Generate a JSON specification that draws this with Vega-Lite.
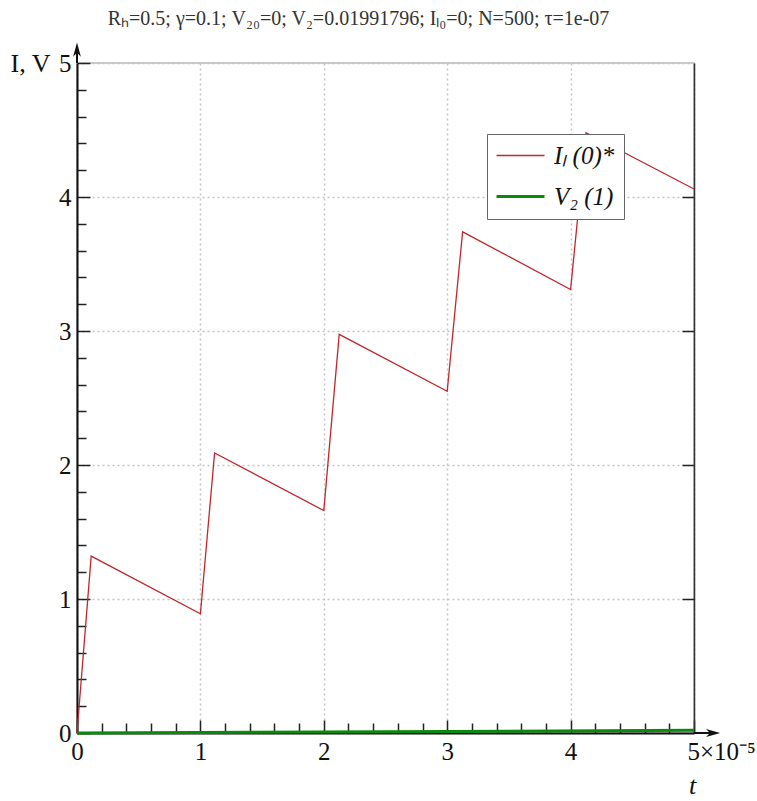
{
  "$schema": "https://vega.github.io/schema/vega-lite/v6.json",
  "width": 617,
  "height": 670,
  "autosize": {"type": "none"},
  "padding": {"left": 77, "top": 63, "right": 63, "bottom": 68},
  "background": "white",
  "title": {
    "text": "Rₕ=0.5; γ=0.1; V₂₀=0; V₂=0.01991796; Iₗ₀=0; N=500; τ=1e-07",
    "font": "Liberation Serif",
    "fontSize": 20,
    "fontWeight": "normal",
    "color": "#333333",
    "anchor": "middle",
    "dx": -27,
    "offset": 14
  },
  "config": {
    "view": {"stroke": "#bbbbbb", "strokeWidth": 1.5},
    "axis": {
      "labelFont": "Liberation Serif",
      "labelFontSize": 25,
      "labelColor": "#111111",
      "titleFont": "Liberation Serif",
      "titleFontSize": 26,
      "titleFontWeight": "normal",
      "titleColor": "#111111",
      "domainColor": "#111111",
      "domainWidth": 2,
      "tickColor": "#222222",
      "tickWidth": 1.5,
      "gridColor": "#c4c4c4",
      "gridDash": [2, 3],
      "gridWidth": 1.5
    },
    "legend": {
      "orient": "none",
      "legendX": 410,
      "legendY": 71,
      "fillColor": "white",
      "strokeColor": "#666666",
      "padding": 9,
      "symbolType": "stroke",
      "symbolSize": 2304,
      "symbolOffset": 12,
      "labelFont": "Liberation Serif",
      "labelFontSize": 25,
      "labelFontStyle": "italic",
      "labelColor": "#111111",
      "labelOffset": 21,
      "rowPadding": 15
    }
  },
  "datasets": {
    "curves": [
      {"t": 0, "v": 0, "series": "IL"},
      {"t": 0.115, "v": 1.32, "series": "IL"},
      {"t": 1.0, "v": 0.89, "series": "IL"},
      {"t": 1.115, "v": 2.09, "series": "IL"},
      {"t": 2.0, "v": 1.66, "series": "IL"},
      {"t": 2.125, "v": 2.975, "series": "IL"},
      {"t": 3.0, "v": 2.55, "series": "IL"},
      {"t": 3.125, "v": 3.74, "series": "IL"},
      {"t": 4.0, "v": 3.31, "series": "IL"},
      {"t": 4.125, "v": 4.48, "series": "IL"},
      {"t": 5.0, "v": 4.06, "series": "IL"},
      {"t": 0, "v": 0, "series": "V2"},
      {"t": 5.0, "v": 0.01991796, "series": "V2"}
    ],
    "axisLines": [
      {"t": 0, "v": 5, "t2": 0, "v2": 5.1},
      {"t": 5, "v": 0, "t2": 5.15, "v2": 0}
    ],
    "arrowHeads": [
      {"t": 0, "v": 5.1, "dir": "up"},
      {"t": 5.155, "v": 0, "dir": "right"}
    ]
  },
  "layer": [
    {
      "data": {"name": "curves"},
      "mark": {"type": "point", "opacity": 0},
      "encoding": {
        "x": {
          "field": "t", "type": "quantitative",
          "scale": {"domain": [0, 5], "nice": false, "zero": false},
          "axis": {
            "orient": "bottom",
            "values": [0.2, 0.4, 0.6, 0.8, 1.2, 1.4, 1.6, 1.8, 2.2, 2.4, 2.6, 2.8, 3.2, 3.4, 3.6, 3.8, 4.2, 4.4, 4.6, 4.8],
            "labels": false, "grid": false, "domain": false, "tickSize": -10, "title": null
          }
        },
        "y": {
          "field": "v", "type": "quantitative",
          "scale": {"domain": [0, 5], "nice": false, "zero": false},
          "axis": {
            "orient": "left",
            "values": [0.2, 0.4, 0.6, 0.8, 1.2, 1.4, 1.6, 1.8, 2.2, 2.4, 2.6, 2.8, 3.2, 3.4, 3.6, 3.8, 4.2, 4.4, 4.6, 4.8],
            "labels": false, "grid": false, "domain": false, "tickSize": -9, "title": null
          }
        }
      }
    },
    {
      "data": {"name": "curves"},
      "mark": {"type": "point", "opacity": 0},
      "encoding": {
        "x": {"field": "t", "type": "quantitative", "axis": null},
        "y": {
          "field": "v", "type": "quantitative",
          "axis": {
            "orient": "right", "values": [1, 2, 3, 4], "labels": false, "grid": false,
            "domain": true, "domainWidth": 1.5, "domainColor": "#333333", "tickSize": -12, "title": null
          }
        }
      }
    },
    {
      "data": {"name": "curves"},
      "mark": {"type": "line", "interpolate": "linear"},
      "encoding": {
        "x": {
          "field": "t", "type": "quantitative",
          "axis": {
            "orient": "bottom",
            "values": [0, 1, 2, 3, 4, 5],
            "grid": true,
            "tickSize": -13,
            "labelPadding": 19,
            "labelExpr": "datum.value == 5 ? '5×10⁻⁵' : datum.label",
            "labelAlign": {"condition": {"test": "datum.value == 5", "value": "left"}, "value": "center"},
            "labelOffset": {"condition": {"test": "datum.value == 5", "value": -7}, "value": 0},
            "title": "t",
            "titleFontStyle": "italic",
            "titleX": 615,
            "titleY": 52,
            "titleAlign": "center",
            "titleBaseline": "middle"
          }
        },
        "y": {
          "field": "v", "type": "quantitative",
          "axis": {
            "orient": "left",
            "values": [0, 1, 2, 3, 4, 5],
            "grid": true,
            "tickSize": -13,
            "labelPadding": 19,
            "title": "I, V",
            "titleAngle": 0,
            "titleX": -47,
            "titleY": 0,
            "titleAlign": "center",
            "titleBaseline": "middle"
          }
        },
        "color": {
          "field": "series", "type": "nominal",
          "scale": {"domain": ["IL", "V2"], "range": ["#c0272d", "#0a8a0a"]},
          "legend": {
            "title": null,
            "labelExpr": "datum.value == 'IL' ? 'Iₗ (0)*' : 'V₂ (1)'",
            "encode": {"symbols": {"update": {"strokeWidth": {"signal": "datum.value == 'V2' ? 3 : 1.3"}}}}
          }
        },
        "strokeWidth": {"condition": {"test": "datum.series == 'V2'", "value": 3}, "value": 1.3},
        "order": {"field": "t", "type": "quantitative"}
      }
    },
    {
      "data": {"name": "axisLines"},
      "mark": {"type": "rule", "color": "#111111", "strokeWidth": 2},
      "encoding": {
        "x": {"field": "t", "type": "quantitative", "axis": null},
        "y": {"field": "v", "type": "quantitative", "axis": null},
        "x2": {"field": "t2"},
        "y2": {"field": "v2"}
      }
    },
    {
      "data": {"name": "arrowHeads"},
      "mark": {"type": "point", "filled": true, "opacity": 1, "color": "#111111", "size": 200},
      "encoding": {
        "x": {"field": "t", "type": "quantitative", "axis": null},
        "y": {"field": "v", "type": "quantitative", "axis": null},
        "shape": {
          "field": "dir", "type": "nominal",
          "scale": {"domain": ["up", "right"], "range": ["M0,-1L0.55,1L0,0.45L-0.55,1Z", "M1,0L-1,0.55L-0.45,0L-1,-0.55Z"]},
          "legend": null
        }
      }
    }
  ],
  "resolve": {"axis": {"x": "independent", "y": "independent"}}
}
